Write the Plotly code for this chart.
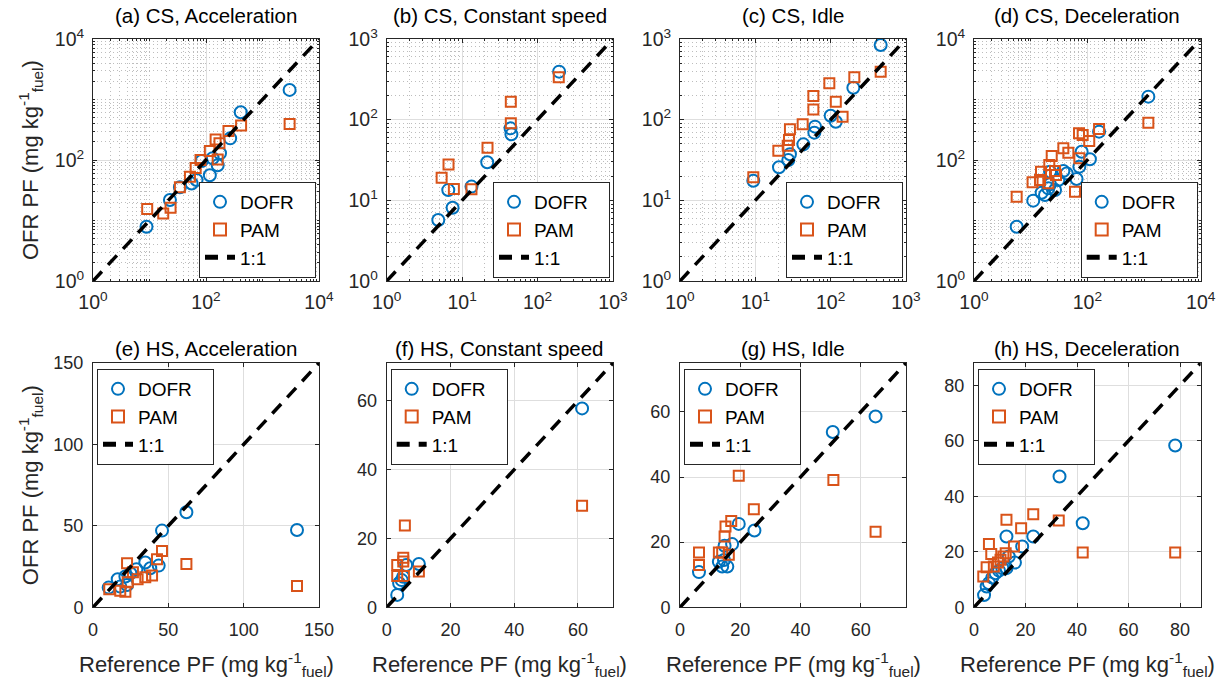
import math
import plotly.graph_objects as go

# ---------------- data ----------------
titles = ["(a) CS, Acceleration", "(b) CS, Constant speed", "(c) CS, Idle", "(d) CS, Deceleration",
          "(e) HS, Acceleration", "(f) HS, Constant speed", "(g) HS, Idle", "(h) HS, Deceleration"]
series_names = ["DOFR", "PAM", "1:1"]

a_dofr_x = [8.85, 23, 34.5, 55.6, 68, 83.6, 117, 131, 161, 177, 268, 412, 3020]
a_dofr_y = [7.9, 21.8, 35.3, 41, 46.7, 96, 56, 107, 82, 129, 228, 616, 1440]
a_pam_x = [9.1, 17.5, 23.6, 34.5, 52, 65.7, 80, 117, 148, 161, 173, 250, 418, 3020]
a_pam_y = [15.5, 13.1, 16.3, 35.3, 53, 74, 100, 141, 219, 102, 189, 302, 370, 394]

b_dofr_x = [4.83, 7.47, 6.55, 13.3, 21.5, 43.8, 45, 193]
b_dofr_y = [5.7, 8.1, 13.4, 14.8, 29.6, 78, 65.8, 394]
b_pam_x = [5.35, 6.6, 7.77, 13.3, 21.7, 44.2, 44.2, 191]
b_pam_y = [19.1, 27.9, 13.8, 13.7, 45, 167, 90, 335]

c_dofr_x = [9.4, 20.6, 27.4, 28.8, 43.4, 60.7, 62, 100, 117, 200, 461]
c_dofr_y = [17.5, 25.7, 31.6, 37.2, 49.4, 69, 81.9, 112, 94.4, 249, 843]
c_pam_x = [9.4, 20.2, 26.9, 28, 28.8, 42.5, 58.9, 58.9, 96, 117, 144, 206, 461]
c_pam_y = [19.3, 41.3, 47.6, 56, 75.9, 87.5, 134, 196, 282, 167, 109, 335, 394]

d_dofr_x = [5.66, 11.1, 15.6, 17.9, 20.5, 21.9, 22, 26.9, 30.8, 37.7, 43.2, 64.6, 72.3, 79.4, 111, 161, 1192]
d_dofr_y = [7.9, 21.3, 28.8, 26.4, 34, 39.6, 64, 31.9, 46.7, 65.8, 60, 48.5, 77.6, 137, 103, 294, 1114]
d_pam_x = [5.66, 10.8, 14.6, 15.2, 20.5, 21.3, 23.5, 26.9, 28, 37.7, 46.2, 60.6, 72.3, 71.3, 82.7, 108, 161, 1192]
d_pam_y = [24.8, 42.8, 46.7, 64, 41.1, 82.6, 116, 65.8, 56.5, 156, 132, 30, 107, 276, 259, 206, 325, 414]

e_dofr_x = [10.4, 16.4, 18.1, 21.5, 22.6, 24.8, 28.8, 34.7, 38, 43.6, 45.8, 62, 135.4]
e_dofr_y = [12.1, 17.2, 12.7, 18.9, 13.7, 20.9, 23.4, 27.5, 24, 25.6, 47.1, 58.4, 47.5]
e_pam_x = [10.8, 18.1, 21.5, 22.6, 23, 26.5, 29.6, 34.7, 39.2, 42.5, 45.8, 62, 135.4]
e_pam_y = [11.1, 10.2, 9.6, 27.0, 15.4, 21.5, 17.2, 18.4, 19.5, 29.5, 34.6, 26.6, 13.1]

f_dofr_x = [3.3, 3.9, 4.7, 5.2, 6.1, 10.1, 61.3]
f_dofr_y = [3.6, 7.0, 7.9, 8.9, 12.3, 12.6, 57.8]
f_pam_x = [3.3, 3.3, 5.2, 5.2, 5.4, 5.7, 10.1, 61.3]
f_pam_y = [9.1, 12.3, 14.4, 13.3, 9.1, 23.8, 10.4, 29.5]

g_dofr_x = [6.3, 12.9, 14.0, 14.6, 14.8, 15.7, 17.3, 19.5, 24.7, 50.7, 64.9]
g_dofr_y = [10.8, 14.0, 12.5, 14.5, 18.9, 12.5, 19.4, 25.6, 23.6, 53.8, 58.6]
g_pam_x = [6.3, 6.3, 12.9, 14.0, 14.8, 15.1, 16.2, 17.0, 19.5, 24.5, 50.9, 64.9]
g_pam_y = [16.8, 13.0, 16.8, 16.8, 21.7, 24.8, 16.1, 26.5, 40.4, 30.1, 39.1, 23.2]

h_dofr_x = [3.9, 4.9, 5.8, 7.1, 8.4, 9.7, 11.0, 12.6, 12.6, 13.5, 15.9, 18.7, 23.0, 33.2, 42.2, 78.1]
h_dofr_y = [4.4, 7.5, 8.7, 10.7, 12.3, 13.2, 14.1, 14.1, 25.5, 18.3, 16.1, 21.9, 25.5, 47.1, 30.3, 58.3]
h_pam_x = [3.6, 4.9, 5.8, 6.7, 7.7, 9.3, 10.3, 11.4, 12.3, 12.6, 15.5, 18.3, 23.0, 32.9, 42.2, 78.1]
h_pam_y = [11.1, 14.4, 22.8, 19.2, 14.7, 16.1, 17.1, 18.3, 19.5, 31.5, 21.9, 28.5, 33.5, 31.3, 19.7, 19.7]

# axis limits and ticks
a_lim, a_ticks = [1, 1e4], [1, 1e2, 1e4]
b_lim, b_ticks = [1, 1e3], [1, 10, 1e2, 1e3]
c_lim, c_ticks = [1, 1e3], [1, 10, 1e2, 1e3]
d_lim, d_ticks = [1, 1e4], [1, 1e2, 1e4]
e_lim, e_ticks = [0, 150], [0, 50, 100, 150]
f_lim, f_ticks = [0, 71], [0, 20, 40, 60]
g_lim, g_ticks = [0, 75], [0, 20, 40, 60]
h_lim, h_ticks = [0, 88], [0, 20, 40, 60, 80]

y_label = "OFR PF (mg kg<sup>-1</sup><sub>fuel</sub>)"
x_label = "Reference PF (mg kg<sup>-1</sup><sub>fuel</sub>)"

# ---------------- styling / layout ----------------
W, H = 1222, 681
FONT = "Liberation Sans, Arial, Helvetica, sans-serif"
BLUE, ORANGE, AXC = "#0072BD", "#D95319", "#262626"
GRID, MINORGRID = "#dedede", "#bdbdbd"
NBSP = "\u00a0"

xdom_px = [(93, 319), (386.7, 613), (680, 906), (974, 1200.7)]
ydom_px = [(39, 281), (363, 607.3)]

panels = [
    (a_dofr_x, a_dofr_y, a_pam_x, a_pam_y, a_lim, a_ticks, True),
    (b_dofr_x, b_dofr_y, b_pam_x, b_pam_y, b_lim, b_ticks, True),
    (c_dofr_x, c_dofr_y, c_pam_x, c_pam_y, c_lim, c_ticks, True),
    (d_dofr_x, d_dofr_y, d_pam_x, d_pam_y, d_lim, d_ticks, True),
    (e_dofr_x, e_dofr_y, e_pam_x, e_pam_y, e_lim, e_ticks, False),
    (f_dofr_x, f_dofr_y, f_pam_x, f_pam_y, f_lim, f_ticks, False),
    (g_dofr_x, g_dofr_y, g_pam_x, g_pam_y, g_lim, g_ticks, False),
    (h_dofr_x, h_dofr_y, h_pam_x, h_pam_y, h_lim, h_ticks, False),
]


def px_x(p):
    return p / W


def px_y(p):
    return 1 - p / H


fig = go.Figure()
layout = dict(
    width=W, height=H, margin=dict(l=0, r=0, t=0, b=0, autoexpand=False),
    paper_bgcolor="white", plot_bgcolor="white",
    font=dict(family=FONT, size=18, color=AXC),
    annotations=[],
)

for i, (dx, dy, px_, py_, lim, ticks, islog) in enumerate(panels):
    k = i + 1
    sfx = "" if k == 1 else str(k)
    row, col = divmod(i, 4)
    x0, x1 = xdom_px[col]
    ytop, ybot = ydom_px[row]
    leg = "legend" + sfx

    fig.add_trace(go.Scatter(
        x=dx, y=dy, mode="markers", name=series_names[0] + NBSP * 3, legend=leg,
        xaxis="x" + sfx, yaxis="y" + sfx,
        marker=dict(symbol="circle-open", size=12, color=BLUE, line=dict(width=2, color=BLUE)),
    ))
    fig.add_trace(go.Scatter(
        x=px_, y=py_, mode="markers", name=series_names[1], legend=leg,
        xaxis="x" + sfx, yaxis="y" + sfx,
        marker=dict(symbol="square-open", size=10, color=ORANGE, line=dict(width=2, color=ORANGE)),
    ))
    fig.add_trace(go.Scatter(
        x=lim, y=lim, mode="lines", name=series_names[2], legend=leg,
        xaxis="x" + sfx, yaxis="y" + sfx,
        line=dict(color="black", width=3.5, dash="13px,9px"),
    ))

    common = dict(
        showline=True, linecolor=AXC, linewidth=1, mirror="ticks", automargin=False,
        ticks="inside", ticklen=4, tickwidth=1, tickcolor=AXC,
        showgrid=True, gridcolor=GRID, gridwidth=1, zeroline=False,
        tickvals=ticks,
    )
    if islog:
        lo, hi = int(round(math.log10(lim[0]))), int(round(math.log10(lim[1])))
        minor_vals = [m * 10 ** e for e in range(lo, hi) for m in range(1, 10)
                      if m * 10 ** e not in ticks]
        common.update(
            type="log", range=[lo, hi],
            tickfont=dict(family=FONT, size=19.5, color=AXC),
            ticktext=["10<sup>%d</sup>" % round(math.log10(v)) for v in ticks],
            minor=dict(tickvals=minor_vals, ticks="inside", ticklen=2, tickcolor=AXC,
                       showgrid=True, gridcolor=MINORGRID, griddash="1px,3px", gridwidth=1),
        )
        xstand, ystand = 4, 4
    else:
        common.update(type="linear", range=lim, ticktext=[str(v) for v in ticks],
                      tickfont=dict(family=FONT, size=18, color=AXC))
        xstand, ystand = 6, 5

    layout["xaxis" + sfx] = dict(common, domain=[px_x(x0), px_x(x1)], anchor="y" + sfx,
                                 ticklabelstandoff=xstand)
    layout["yaxis" + sfx] = dict(common, domain=[px_y(ybot), px_y(ytop)], anchor="x" + sfx,
                                 ticklabelstandoff=ystand)

    # legend box
    legd = dict(
        font=dict(family=FONT, size=19, color="black"),
        bgcolor="white", bordercolor=AXC, borderwidth=1,
        xref="paper", yref="paper", itemsizing="constant", tracegroupgap=0,
    )
    if row == 0:
        legd.update(x=px_x(x1 - 3), y=px_y(ybot - 3), xanchor="right", yanchor="bottom")
    else:
        legd.update(x=px_x(x0 + 4), y=px_y(ytop + 6), xanchor="left", yanchor="top")
    layout[leg] = legd

    # title
    title_c = ytop - (23 if row == 0 else 15)
    layout["annotations"].append(dict(
        text=titles[i], x=px_x((x0 + x1) / 2), y=px_y(title_c), xref="paper", yref="paper",
        xanchor="center", yanchor="middle", showarrow=False,
        font=dict(family=FONT, size=20.5, color="black"),
    ))
    if row == 1:
        layout["annotations"].append(dict(
            text=x_label, x=px_x((x0 + x1) / 2), y=px_y(664), xref="paper", yref="paper",
            xanchor="center", yanchor="middle", showarrow=False,
            font=dict(family=FONT, size=22, color=AXC),
        ))
    if col == 0:
        layout["annotations"].append(dict(
            text=y_label, x=px_x(30), y=px_y((ytop + ybot) / 2), xref="paper", yref="paper",
            xanchor="center", yanchor="middle", showarrow=False, textangle=-90,
            font=dict(family=FONT, size=22, color=AXC),
        ))

fig.update_layout(**layout)
fig.write_html("out.html")
